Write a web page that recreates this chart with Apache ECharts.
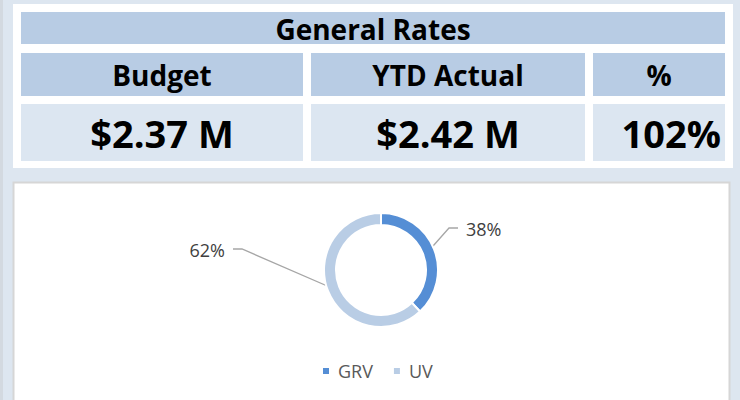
<!DOCTYPE html>
<html>
<head>
<meta charset="utf-8">
<script src="https://cdn.jsdelivr.net/npm/echarts@6/dist/echarts.min.js"></script>
<style>
html,body{margin:0;padding:0;background:#dde6f0;}
#chart{width:740px;height:400px;}
</style>
</head>
<body>
<div id="chart"></div>
<script>
// ---- data ----
const tableTitle = 'General Rates';
const headers = ['Budget', 'YTD Actual', '%'];
const values = ['$2.37 M', '$2.42 M', '102%'];
const categories = ['GRV', 'UV'];
const shares = [38, 62];
const colors = ['#558ed5', '#b9cde5'];

// ---- layout ----
const FONT = '"Open Sans", "Liberation Sans", sans-serif';
const cells = [[21, 303], [311, 585], [593, 725]];
const cx = 381, cy = 270, rIn = 45, rOut = 57;

const chart = echarts.init(document.getElementById('chart'), null, { renderer: 'svg' });

const graphics = [
  { type: 'rect', z: -20, shape: { x: 0, y: 0, width: 740, height: 400 }, style: { fill: '#dde6f0' } },
  { type: 'rect', z: -19, shape: { x: 0, y: 0, width: 3, height: 400 }, style: { fill: '#d3d9e0' } },
  { type: 'rect', z: -18, shape: { x: 13, y: 4, width: 720, height: 164 }, style: { fill: '#ffffff' } },
  { type: 'rect', z: -18, shape: { x: 13.5, y: 182.5, width: 716, height: 230 }, style: { fill: '#ffffff', stroke: '#d6d6d6', lineWidth: 2 } },
  { type: 'rect', z: -17, shape: { x: 21, y: 12, width: 704, height: 32 }, style: { fill: '#b8cce4' } },
  { type: 'text', z: -16, x: 373, y: 29, style: { text: tableTitle, font: 'bold 28px ' + FONT, fill: '#000', textAlign: 'center', textVerticalAlign: 'middle' } }
];
headers.forEach((h, i) => {
  const [a, b] = cells[i];
  graphics.push({ type: 'rect', z: -17, shape: { x: a, y: 53, width: b - a, height: 43 }, style: { fill: '#b8cce4' } });
  graphics.push({ type: 'rect', z: -17, shape: { x: a, y: 104, width: b - a, height: 57 }, style: { fill: '#dce6f1' } });
  graphics.push({ type: 'text', z: -16, x: (a + b) / 2, y: 75, style: { text: h, font: 'bold 28px ' + FONT, fill: '#000', textAlign: 'center', textVerticalAlign: 'middle' } });
  const right = i === 2;
  graphics.push({ type: 'text', z: -16, x: right ? b - 4 : (a + b) / 2, y: 133, style: { text: values[i], font: 'bold 38px ' + FONT, fill: '#000', textAlign: right ? 'right' : 'center', textVerticalAlign: 'middle' } });
});

// label anchors derived from slice mid angles
const total = shares.reduce((s, v) => s + v, 0);
function anchor(i) {
  let cum = 0;
  for (let k = 0; k < i; k++) cum += shares[k];
  const frac = (cum + shares[i] / 2) / total;
  const ang = (90 - 360 * frac) * Math.PI / 180;
  const r = (rIn + rOut) / 2;
  return [cx + r * Math.cos(ang), cy - r * Math.sin(ang)];
}
const labelPlace = [
  { elbow: [449, 228], end: [458, 228], text: [466, 229], align: 'left' },
  { elbow: [242, 249], end: [233, 249], text: [225, 250], align: 'right' }
];

chart.setOption({
  animation: false,
  graphic: graphics,
  color: colors,
  legend: {
    data: categories,
    left: 316,
    top: 355,
    icon: 'rect',
    itemWidth: 8,
    itemHeight: 8,
    itemGap: 19,
    textStyle: { fontFamily: FONT, fontSize: 18, color: '#595959', padding: [0, 0, 0, 3], lineHeight: 22 }
  },
  series: [{
    type: 'pie',
    center: [cx, cy],
    radius: [rIn, rOut],
    startAngle: 90,
    clockwise: true,
    silent: true,
    itemStyle: { borderColor: '#ffffff', borderWidth: 2 },
    label: { show: true, formatter: '{d}%', fontFamily: FONT, fontSize: 18, color: '#404040' },
    labelLine: { show: true, lineStyle: { color: '#a6a6a6', width: 1.3 } },
    labelLayout: function (p) {
      const L = labelPlace[p.dataIndex];
      return {
        x: L.text[0], y: L.text[1], align: L.align, verticalAlign: 'middle',
        labelLinePoints: [anchor(p.dataIndex), L.elbow, L.end]
      };
    },
    data: categories.map((c, i) => ({ name: c, value: shares[i] }))
  }]
});
</script>
</body>
</html>
